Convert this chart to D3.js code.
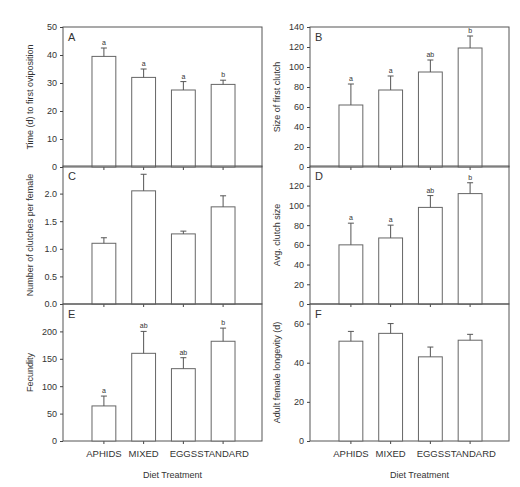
<!DOCTYPE html>
<html><head><meta charset="utf-8">
<script src="https://cdn.jsdelivr.net/npm/d3@7"></script>
<style>body{margin:0;background:#fff}text{font-family:"Liberation Sans",Arial,sans-serif;fill:#333}</style>
</head><body><svg width="520" height="487"></svg>
<script>
// data
const diets = ["APHIDS", "MIXED", "EGGS", "STANDARD"];
const panelA = {mean: [39.5, 32, 27.5, 29.5], se: [3, 3, 3, 1.5], letters: ["a","a","a","b"]};
const panelB = {mean: [62, 77, 95, 119], se: [21, 14, 12, 12], letters: ["a","a","ab","b"]};
const panelC = {mean: [1.1, 2.05, 1.27, 1.76], se: [0.1, 0.3, 0.05, 0.2], letters: []};
const panelD = {mean: [60, 67, 98, 112], se: [22, 13, 12, 11], letters: ["a","a","ab","b"]};
const panelE = {mean: [64, 160, 132, 182], se: [18, 40, 20, 24], letters: ["a","ab","ab","b"]};
const panelF = {mean: [51, 55, 43, 51.5], se: [5, 5, 5, 3], letters: []};

const panels = [
  {id:"A", d:panelA, max:50, ticks:[0,10,20,30,40,50], fmt:d3.format("d"), label:"Time (d) to first oviposition", col:0, row:0},
  {id:"B", d:panelB, max:140, ticks:[0,20,40,60,80,100,120,140], fmt:d3.format("d"), label:"Size of first clutch", col:1, row:0},
  {id:"C", d:panelC, max:2.5, ticks:[0,0.5,1,1.5,2], fmt:d3.format(".1f"), label:"Number of clutches per female", col:0, row:1},
  {id:"D", d:panelD, max:140, ticks:[0,20,40,60,80,100,120], fmt:d3.format("d"), label:"Avg. clutch size", col:1, row:1},
  {id:"E", d:panelE, max:250, ticks:[0,50,100,150,200], fmt:d3.format("d"), label:"Fecundity", col:0, row:2},
  {id:"F", d:panelF, max:70, ticks:[0,20,40,60], fmt:d3.format("d"), label:"Adult female longevity (d)", col:1, row:2}
];

const svg = d3.select("svg");
const colX = [63, 310], colW = 199;
const rowY = [27, 166, 304], rowH = [140, 138, 137];

panels.forEach(p => {
  const x0 = colX[p.col], y0 = rowY[p.row], h = rowH[p.row];
  const g = svg.append("g").attr("transform", `translate(${x0},${y0})`);
  const x = d3.scaleBand().domain(diets).range([27, colW - 25]).paddingInner(0.4).paddingOuter(0.05);
  const y = d3.scaleLinear().domain([0, p.max]).range([h, 0]);

  g.append("rect").attr("width", colW).attr("height", h)
    .attr("fill", "none").attr("stroke", "#555").attr("stroke-width", 1);

  const ax = g.append("g").call(d3.axisLeft(y).tickValues(p.ticks).tickFormat(p.fmt).tickSize(3));
  ax.select(".domain").remove();
  ax.selectAll("line").attr("stroke", "#444");
  ax.selectAll("text").attr("font-size", 9);

  const bx = g.append("g").attr("transform", `translate(0,${h})`)
    .call(d3.axisBottom(x).tickSize(3).tickFormat(p.row === 2 ? (d => d) : ""));
  bx.select(".domain").remove();
  bx.selectAll("line").attr("stroke", "#444");
  bx.selectAll("text").attr("font-size", 9.5).attr("dy", "1.1em");

  const vals = diets.map((c, i) => ({c, m: p.d.mean[i], s: p.d.se[i], l: p.d.letters[i] || ""}));
  g.selectAll("rect.bar").data(vals).join("rect").attr("class", "bar")
    .attr("x", d => x(d.c)).attr("width", x.bandwidth())
    .attr("y", d => y(d.m)).attr("height", d => h - y(d.m))
    .attr("fill", "#fff").attr("stroke", "#666").attr("stroke-width", 1);
  g.selectAll("line.err").data(vals).join("line").attr("class", "err")
    .attr("x1", d => x(d.c) + x.bandwidth() / 2).attr("x2", d => x(d.c) + x.bandwidth() / 2)
    .attr("y1", d => y(d.m)).attr("y2", d => y(d.m + d.s)).attr("stroke", "#555");
  g.selectAll("line.cap").data(vals).join("line").attr("class", "cap")
    .attr("x1", d => x(d.c) + x.bandwidth() / 2 - 3).attr("x2", d => x(d.c) + x.bandwidth() / 2 + 3)
    .attr("y1", d => y(d.m + d.s)).attr("y2", d => y(d.m + d.s)).attr("stroke", "#555");
  g.selectAll("text.let").data(vals).join("text").attr("class", "let")
    .attr("x", d => x(d.c) + x.bandwidth() / 2).attr("y", d => y(d.m + d.s) - 3)
    .attr("text-anchor", "middle").attr("font-size", 7).text(d => d.l);

  g.append("text").attr("x", 5).attr("y", 14).attr("font-size", 11).text(p.id);
  g.append("text").attr("transform", `translate(-30,${h / 2}) rotate(-90)`)
    .attr("text-anchor", "middle").attr("font-size", 9).text(p.label);
  if (p.row === 2)
    g.append("text").attr("x", colW / 2 + 10).attr("y", h + 37)
      .attr("text-anchor", "middle").attr("font-size", 9).text("Diet Treatment");
});
</script></body></html>
